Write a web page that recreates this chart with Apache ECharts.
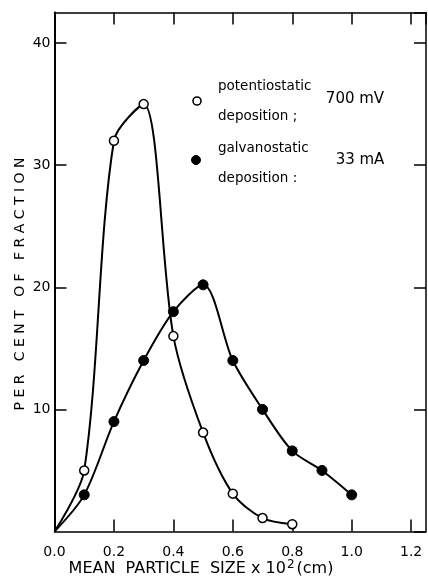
<!DOCTYPE html>
<html>
<head>
<meta charset="utf-8">
<script src="https://cdn.jsdelivr.net/npm/echarts@6/dist/echarts.min.js"></script>
<style>
html,body{margin:0;padding:0;background:#fff;}
#c{width:428px;height:578px;}
</style>
</head>
<body>
<div id="c"></div>
<script>
// Data (x = mean particle size x 10^2 cm, y = per cent of fraction)
const potentioX = [0.0, 0.1, 0.2, 0.3, 0.4, 0.5, 0.6, 0.7, 0.8];
const potentioY = [0.0, 5.0, 32.0, 35.0, 16.0, 8.1, 3.1, 1.1, 0.6];
const galvanoX = [0.0, 0.1, 0.2, 0.3, 0.4, 0.5, 0.6, 0.7, 0.8, 0.9, 1.0];
const galvanoY = [0.0, 3.0, 9.0, 14.0, 18.0, 20.2, 14.0, 10.0, 6.6, 5.0, 3.0];
const xTicks = [0.0, 0.2, 0.4, 0.6, 0.8, 1.0, 1.2];
const yTicks = [10, 20, 30, 40];
const legendNames = ['potentiostatic\ndeposition ;', 'galvanostatic\ndeposition :'];
const legendValues = ['700 mV', '33 mA'];
const xTitle = 'MEAN  PARTICLE  SIZE x 10';
const yTitle = 'P E R   C E N T   O F   F R A C T I O N';

const FONT = '"DejaVu Sans", sans-serif';

function pts(xs, ys) {
  return xs.map((x, i) => {
    const item = { value: [x, ys[i]] };
    if (x === 0 && ys[i] === 0) item.symbol = 'none';
    return item;
  });
}

function axisLine(w) { return { show: true, onZero: false, lineStyle: { color: '#000', width: w } }; }
function ticks() { return { show: true, inside: true, length: 12, lineStyle: { color: '#000', width: 1.5 } }; }

const chart = echarts.init(document.getElementById('c'));
chart.setOption({
  animation: false,
  backgroundColor: '#fff',
  grid: { left: 54.5, right: 2, top: 12.5, bottom: 46.5, containLabel: false },
  xAxis: [
    {
      type: 'value', min: 0, max: 1.25, interval: 0.2, position: 'bottom',
      axisLine: axisLine(1.5),
      axisTick: ticks(),
      splitLine: { show: false },
      axisLabel: {
        show: true, margin: 14, color: '#000', fontSize: 14, fontFamily: FONT,
        showMaxLabel: false,
        formatter: v => (xTicks.some(t => Math.abs(t - v) < 1e-6) ? v.toFixed(1) : '')
      }
    },
    {
      type: 'value', min: 0, max: 1.25, interval: 0.2, position: 'top',
      axisLine: axisLine(1.5),
      axisTick: ticks(),
      splitLine: { show: false },
      axisLabel: { show: false }
    }
  ],
  yAxis: [
    {
      type: 'value', min: 0, max: 42.5, interval: 10, position: 'left',
      axisLine: axisLine(2),
      axisTick: ticks(),
      splitLine: { show: false },
      axisLabel: {
        show: true, margin: 4, color: '#000', fontSize: 14, fontFamily: FONT,
        showMinLabel: false, showMaxLabel: false,
        formatter: v => (yTicks.indexOf(v) >= 0 ? String(v) : '')
      }
    },
    {
      type: 'value', min: 0, max: 42.5, interval: 10, position: 'right',
      axisLine: axisLine(1.5),
      axisTick: ticks(),
      splitLine: { show: false },
      axisLabel: { show: false }
    }
  ],
  series: [
    {
      name: 'potentiostatic deposition; 700 mV',
      type: 'line', xAxisIndex: 0, yAxisIndex: 0,
      data: pts(potentioX, potentioY),
      smooth: 0.3,
      symbol: 'circle', symbolSize: 9,
      lineStyle: { color: '#000', width: 2 },
      itemStyle: { color: '#fff', borderColor: '#000', borderWidth: 1.5 },
      z: 3
    },
    {
      name: 'galvanostatic deposition; 33 mA',
      type: 'line', xAxisIndex: 0, yAxisIndex: 0,
      data: pts(galvanoX, galvanoY),
      smooth: 0.3,
      symbol: 'circle', symbolSize: 10,
      lineStyle: { color: '#000', width: 2 },
      itemStyle: { color: '#000', borderColor: '#000', borderWidth: 1 },
      z: 4
    }
  ],
  graphic: [
    // legend
    { type: 'circle', shape: { cx: 197, cy: 101, r: 4 }, style: { fill: '#fff', stroke: '#000', lineWidth: 1.6 }, z: 10 },
    { type: 'text', x: 218, y: 101, style: { text: legendNames[0], font: '13.5px ' + FONT, fill: '#000', align: 'left', verticalAlign: 'middle', textAlign: 'left', textVerticalAlign: 'middle', lineHeight: 30 }, z: 10 },
    { type: 'text', x: 355, y: 99, style: { text: legendValues[0], font: '15px ' + FONT, fill: '#000', align: 'center', verticalAlign: 'middle', textAlign: 'center', textVerticalAlign: 'middle' }, z: 10 },
    { type: 'circle', shape: { cx: 196, cy: 160, r: 4.5 }, style: { fill: '#000', stroke: '#000', lineWidth: 1 }, z: 10 },
    { type: 'text', x: 218, y: 163, style: { text: legendNames[1], font: '13.5px ' + FONT, fill: '#000', align: 'left', verticalAlign: 'middle', textAlign: 'left', textVerticalAlign: 'middle', lineHeight: 30 }, z: 10 },
    { type: 'text', x: 360, y: 160, style: { text: legendValues[1], font: '15px ' + FONT, fill: '#000', align: 'center', verticalAlign: 'middle', textAlign: 'center', textVerticalAlign: 'middle' }, z: 10 },
    // axis titles
    {
      type: 'text', x: 201, y: 569,
      style: {
        text: '{a|' + xTitle + '}{s|2}{a|(cm)}',
        rich: {
          a: { fontSize: 16, fontFamily: FONT, fill: '#000', color: '#000' },
          s: { fontSize: 12, fontFamily: FONT, fill: '#000', color: '#000', padding: [0, 2, 9, 1] }
        },
        align: 'center', verticalAlign: 'middle', textAlign: 'center', textVerticalAlign: 'middle'
      }, z: 10
    },
    {
      type: 'text', x: 20, y: 284, rotation: Math.PI / 2,
      style: { text: yTitle, font: '14px ' + FONT, fill: '#000', align: 'center', verticalAlign: 'middle', textAlign: 'center', textVerticalAlign: 'middle' }, z: 10
    }
  ]
});
</script>
</body>
</html>
